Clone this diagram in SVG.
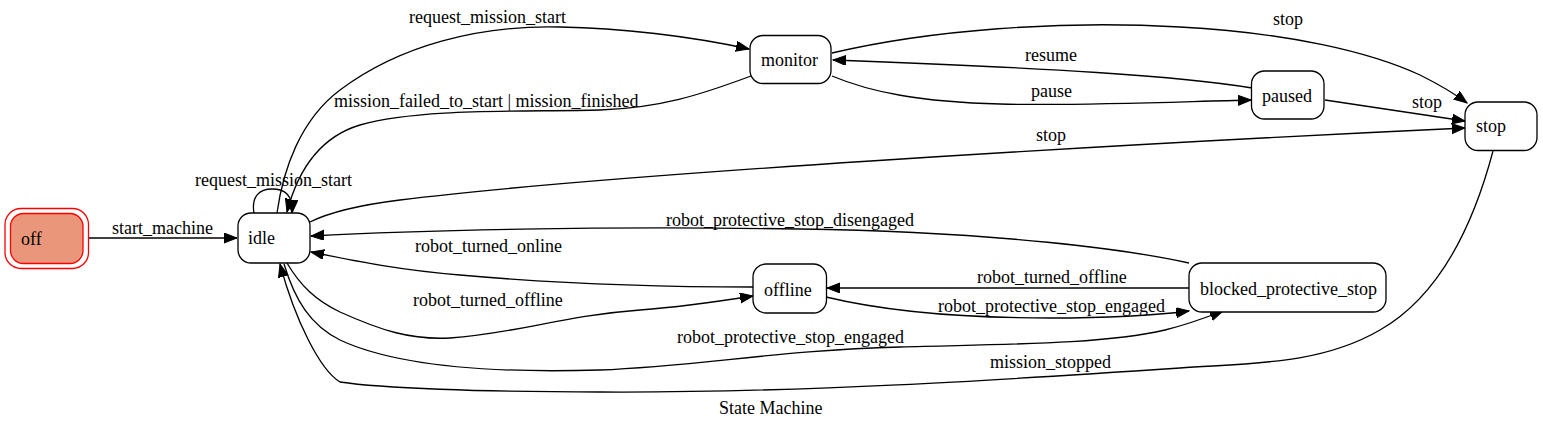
<svg xmlns="http://www.w3.org/2000/svg" width="1543" height="431" viewBox="0 0 1543 431">
<style>
text{font-family:"Liberation Serif","Times New Roman",serif;font-size:18px;fill:#000}
.n{fill:#fff;stroke:#000;stroke-width:1.3}
.e{fill:none;stroke:#000;stroke-width:1.3}
</style>
<defs>
<marker id="a" markerUnits="userSpaceOnUse" markerWidth="14" markerHeight="11" refX="13" refY="5" orient="auto">
<path d="M0,0 L13,5 L0,10 z" fill="#000" stroke="#000" stroke-width="1"/>
</marker>
</defs>
<rect width="1543" height="431" fill="#fff"/>
<g id="connectors">
<path class="e" marker-end="url(#a)" d="M89,238 L237,238"/>
<text x="112" y="234">start_machine</text>
<path class="e" marker-end="url(#a)" d="M254,213 C251,196 260,189 272,189 C285,189 293,195 292,213"/>
<text x="195" y="186">request_mission_start</text>
<path class="e" marker-end="url(#a)" d="M277,213 C283,170 300,120 340,90 C400,45 480,25 560,27 C620,28 690,36 749,49"/>
<text x="409" y="23">request_mission_start</text>
<path class="e" marker-end="url(#a)" d="M751,76 C700,95 660,108 600,110 C520,112 420,108 360,125 C320,137 298,170 287,212"/>
<text x="334" y="107">mission_failed_to_start | mission_finished</text>
<path class="e" marker-end="url(#a)" d="M832,53 C930,30 1060,20 1180,27 C1290,33 1370,52 1420,75 C1440,85 1455,94 1467,103"/>
<text x="1273" y="25">stop</text>
<path class="e" marker-end="url(#a)" d="M1252,88 C1180,76 1050,68 833,60"/>
<text x="1025" y="61">resume</text>
<path class="e" marker-end="url(#a)" d="M832,76 C870,92 920,102 1000,104 C1080,106 1170,102 1251,100"/>
<text x="1031" y="97">pause</text>
<path class="e" marker-end="url(#a)" d="M1325,100 L1465,121"/>
<text x="1412" y="108">stop</text>
<path class="e" marker-end="url(#a)" d="M310,222 C330,212 360,205 400,200 C600,175 1100,145 1465,128"/>
<text x="1036" y="141">stop</text>
<path class="e" marker-end="url(#a)" d="M1493,151 C1480,200 1450,290 1380,330 C1320,365 1250,363 1180,368 C1000,380 800,393 600,392 C480,392 380,388 340,382 C320,370 295,320 280,264"/>
<text x="990" y="368">mission_stopped</text>
<path class="e" marker-end="url(#a)" d="M287,263 C300,285 315,300 340,312 C380,330 410,340 450,338 C520,333 560,316 640,310 C680,307 715,302 753,296"/>
<text x="413" y="306">robot_turned_offline</text>
<path class="e" marker-end="url(#a)" d="M753,287 C650,287 550,283 460,275 C400,270 360,262 311,252"/>
<text x="415" y="252">robot_turned_online</text>
<path class="e" marker-end="url(#a)" d="M1189,263 C1130,250 1000,232 800,229 C600,226 420,230 311,236"/>
<text x="666" y="226">robot_protective_stop_disengaged</text>
<path class="e" marker-end="url(#a)" d="M1189,288 L827,288"/>
<text x="977" y="283">robot_turned_offline</text>
<path class="e" marker-end="url(#a)" d="M826,297 C880,310 950,318 1050,318 C1110,318 1150,316 1189,311"/>
<text x="938" y="312">robot_protective_stop_engaged</text>
<path class="e" marker-end="url(#a)" d="M284,264 C295,300 310,325 340,340 C400,368 500,373 600,370 C700,366 780,350 900,347 C1000,344 1100,345 1165,330 C1185,325 1205,318 1223,311"/>
<text x="677" y="343">robot_protective_stop_engaged</text>
</g>
<g id="off">
<rect x="5" y="208.5" width="83.5" height="60" rx="16" fill="#fff" stroke="#f00" stroke-width="1.3"/>
<rect x="10.5" y="213.5" width="72.5" height="50" rx="13" fill="#e9967a" stroke="#f00" stroke-width="1.3"/>
<text x="21" y="245">off</text>
</g>
<g id="idle"><rect class="n" x="238" y="213" width="72" height="50" rx="13"/><text x="248" y="244">idle</text></g>
<g id="monitor"><rect class="n" x="750" y="35.5" width="81" height="48" rx="13"/><text x="761" y="66">monitor</text></g>
<g id="paused"><rect class="n" x="1251.5" y="71" width="72.5" height="48" rx="13"/><text x="1262" y="102">paused</text></g>
<g id="stop"><rect class="n" x="1465" y="102" width="72" height="48.5" rx="13"/><text x="1476" y="132">stop</text></g>
<g id="offline"><rect class="n" x="753" y="264" width="73.5" height="49" rx="13"/><text x="764" y="296">offline</text></g>
<g id="blocked_protective_stop"><rect class="n" x="1189" y="263" width="197" height="49" rx="13"/><text x="1200" y="295">blocked_protective_stop</text></g>
<text x="719" y="414">State Machine</text>
</svg>
